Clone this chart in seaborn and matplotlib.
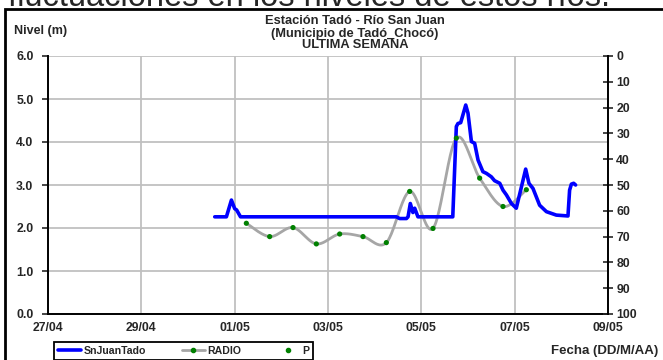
import numpy as np
import pandas as pd
import matplotlib
matplotlib.use("Agg")
import matplotlib.pyplot as plt
import matplotlib.dates as mdates
import seaborn as sns
from matplotlib.lines import Line2D
from matplotlib.patches import Rectangle

# ---------------- data ----------------
level_times = [
    "2014-04-30 13:45", "2014-04-30 19:45", "2014-04-30 22:20", "2014-05-01 00:00",
    "2014-05-01 01:00", "2014-05-01 03:00", "2014-05-04 11:10", "2014-05-04 12:50",
    "2014-05-04 16:20", "2014-05-04 17:10", "2014-05-04 18:20", "2014-05-04 19:40",
    "2014-05-04 20:35", "2014-05-04 22:15", "2014-05-05 16:10", "2014-05-05 18:00",
    "2014-05-05 18:50", "2014-05-05 20:15", "2014-05-05 22:50", "2014-05-06 00:00",
    "2014-05-06 01:45", "2014-05-06 03:25", "2014-05-06 05:10", "2014-05-06 07:40",
    "2014-05-06 09:30", "2014-05-06 12:00", "2014-05-06 13:40", "2014-05-06 16:20",
    "2014-05-06 18:00", "2014-05-06 19:45", "2014-05-06 22:20", "2014-05-07 00:50",
    "2014-05-07 03:30", "2014-05-07 05:40", "2014-05-07 07:20", "2014-05-07 09:25",
    "2014-05-07 12:50", "2014-05-07 16:20", "2014-05-07 21:25", "2014-05-08 03:25",
    "2014-05-08 04:15", "2014-05-08 05:10", "2014-05-08 06:20", "2014-05-08 07:20",
]
level_values = [
    2.26, 2.26, 2.65, 2.45,
    2.42, 2.26, 2.26, 2.22,
    2.22, 2.26, 2.57, 2.36,
    2.46, 2.26, 2.26, 4.36,
    4.43, 4.45, 4.86, 4.67,
    4.01, 3.97, 3.58, 3.31,
    3.27, 3.19, 3.10, 3.04,
    2.88, 2.77, 2.57, 2.46,
    2.96, 3.37, 3.04, 2.92,
    2.53, 2.38, 2.30, 2.28,
    2.88, 3.02, 3.04, 3.00,
]
p_times = [
    "2014-05-01 06:00", "2014-05-01 18:00", "2014-05-02 06:00", "2014-05-02 18:00",
    "2014-05-03 06:00", "2014-05-03 18:00", "2014-05-04 06:00", "2014-05-04 18:00",
    "2014-05-05 06:00", "2014-05-05 18:00", "2014-05-06 06:00", "2014-05-06 18:00",
    "2014-05-07 06:00",
]
p_values = [2.11, 1.80, 2.01, 1.63, 1.86, 1.80, 1.66, 2.85, 1.99, 4.09, 3.16, 2.50, 2.89]

x_tick_dates = ["2014-04-27", "2014-04-29", "2014-05-01", "2014-05-03",
                "2014-05-05", "2014-05-07", "2014-05-09"]
y_left_ticks = [0, 1, 2, 3, 4, 5, 6]
y_right_ticks = [0, 10, 20, 30, 40, 50, 60, 70, 80, 90, 100]

title_lines = ["Estación Tadó - Río San Juan", "(Municipio de Tadó_Chocó)", "ULTIMA SEMANA"]
header_text = "fluctuaciones en los niveles de estos ríos."

# ---------------- style ----------------
sns.set_style("white")
plt.rcParams['font.family'] = ['Liberation Sans', 'DejaVu Sans']

W, H = 663, 360
fig = plt.figure(figsize=(W / 100, H / 100), dpi=100)
fx = lambda px: px / W
fy = lambda py: 1 - py / H

L, R, T, B = 48, 608, 56, 314
ax = fig.add_axes([fx(L), fy(B), fx(R - L), (B - T) / H])

lvl = pd.DataFrame({"t": pd.to_datetime(level_times), "v": level_values})
pp = pd.DataFrame({"t": pd.to_datetime(p_times), "v": p_values})


def excel_smooth(x, y, n=24):
    x = np.asarray(x, float)
    y = np.asarray(y, float)
    P = np.column_stack([x, y])
    Pp = np.vstack([P[0], P, P[-1]])
    out = []
    s = np.linspace(0, 1, n)[:, None]
    for i in range(len(P) - 1):
        p0, p1, p2, p3 = Pp[i], Pp[i + 1], Pp[i + 2], Pp[i + 3]
        c1 = p1 + (p2 - p0) / 6
        c2 = p2 - (p3 - p1) / 6
        seg = ((1 - s) ** 3) * p1 + 3 * ((1 - s) ** 2) * s * c1 + 3 * (1 - s) * s ** 2 * c2 + s ** 3 * p2
        out.append(seg if i == 0 else seg[1:])
    out = np.vstack(out)
    return out[:, 0], out[:, 1]


ax.grid(True, color="#c0c0c0", lw=1.3)
ax.set_axisbelow(True)

sx, sy = excel_smooth(mdates.date2num(pp["t"]), pp["v"])
ax.plot(mdates.num2date(sx), sy, color="#a6a6a6", lw=2.0, zorder=3, solid_capstyle="round")
sns.lineplot(data=lvl, x="t", y="v", ax=ax, color="#0000ff", lw=2.6, zorder=4,
             solid_joinstyle="round", solid_capstyle="round")
sns.scatterplot(data=pp, x="t", y="v", ax=ax, color="#008000", s=14, edgecolor="none", zorder=5)

ax.set_xlim(pd.Timestamp(x_tick_dates[0]), pd.Timestamp(x_tick_dates[-1]))
ax.set_ylim(0, 6)
ax.set_xticks(pd.to_datetime(x_tick_dates))
ax.xaxis.set_major_formatter(mdates.DateFormatter("%d/%m"))
ax.set_yticks(y_left_ticks)
ax.set_yticklabels([f"{v:.1f}" for v in y_left_ticks])
ax.set_xlabel("")
ax.set_ylabel("")

for s in ["top", "right"]:
    ax.spines[s].set_visible(False)
for s in ["left", "bottom"]:
    ax.spines[s].set_color("black")
    ax.spines[s].set_linewidth(1.4)

TS = 8.8
ax.tick_params(axis="y", direction="out", length=4.5, width=1.2, pad=6, labelsize=TS)
ax.tick_params(axis="x", direction="out", length=4, width=1.2, pad=1.5, labelsize=TS)
for lab in ax.get_xticklabels() + ax.get_yticklabels():
    lab.set_fontweight("bold")

ax2 = ax.twinx()
ax2.set_ylim(100, 0)
ax2.set_yticks(y_right_ticks)
for s in ["top", "left", "bottom"]:
    ax2.spines[s].set_visible(False)
ax2.spines["right"].set_color("black")
ax2.spines["right"].set_linewidth(1.4)
ax2.tick_params(axis="y", direction="inout", length=7, width=1.2, pad=2.5, labelsize=TS)
for lab in ax2.get_yticklabels():
    lab.set_fontweight("bold")
ax2.grid(False)

# titles and labels
for yy, line in zip([21.5, 33.5, 45.5], title_lines):
    fig.text(fx(355), fy(yy), line, ha="center", va="center", fontsize=9.3, fontweight="bold")
fig.text(fx(14), fy(31), "Nivel (m)", ha="left", va="center", fontsize=9, fontweight="bold")
fig.text(fx(551), fy(351), "Fecha (DD/M/AA)", ha="left", va="center", fontsize=9.5, fontweight="bold")
fig.text(fx(8), fy(5.5), header_text, ha="left", va="baseline", fontsize=23.5)

# outer frame
fig.patches.append(Rectangle((fx(5), -0.2), 1.5, fy(9) + 0.2, transform=fig.transFigure,
                             fill=False, edgecolor="black", lw=2.0, zorder=10))

handles = [
    Line2D([], [], color="#0000ff", lw=2.6),
    Line2D([], [], color="#a6a6a6", lw=2.0, marker="o", mfc="#008000", mec="#008000", ms=3),
    Line2D([], [], ls="none", marker="o", color="#008000", ms=3),
]
leg = fig.legend(handles, ["SnJuanTado", "RADIO", "P"], loc="center",
                 bbox_to_anchor=(fx(183.5), fy(351)), ncol=3, frameon=True, fancybox=False,
                 edgecolor="black", framealpha=1, prop=dict(size=7.6, weight="bold"),
                 handlelength=2.2, handletextpad=0.2, columnspacing=3.4, borderpad=0.35)
leg.get_frame().set_linewidth(1.3)

fig.savefig("out.png", dpi=100)
